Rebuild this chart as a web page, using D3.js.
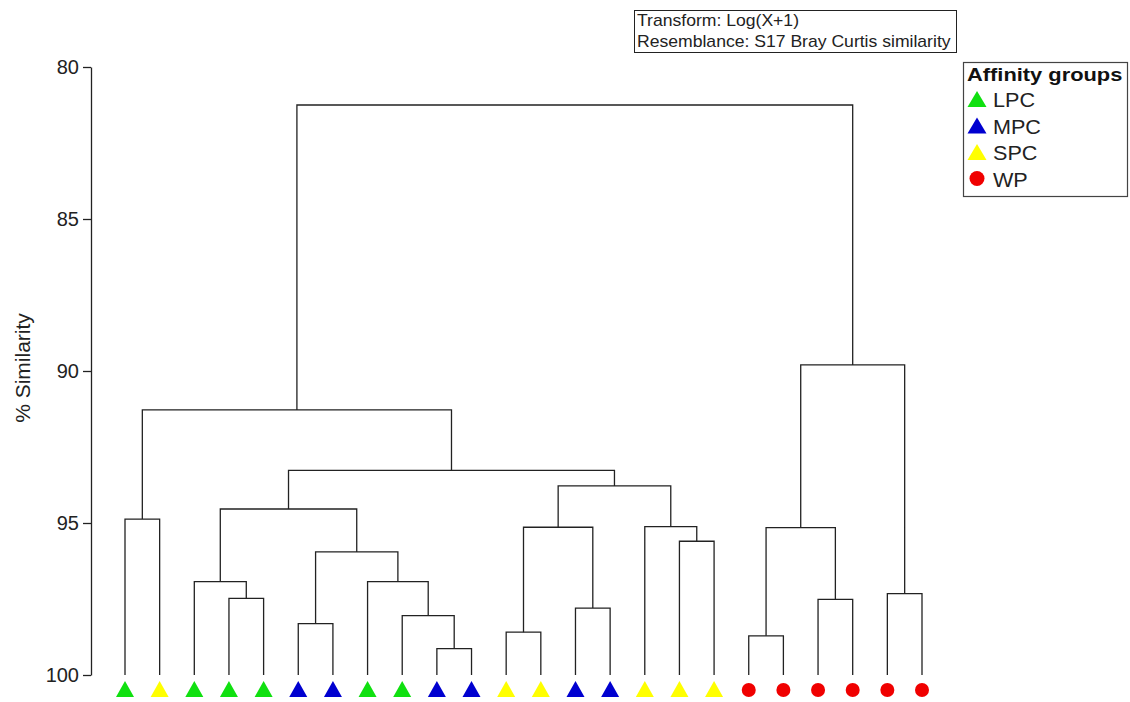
<!DOCTYPE html>
<html>
<head>
<meta charset="utf-8">
<script src="https://cdn.jsdelivr.net/npm/d3@7"></script>
<style>
  body { margin: 0; background: #fff; }
  svg { font-family: Arial, "Liberation Sans", sans-serif; }
</style>
</head>
<body>
<svg width="1130" height="702"></svg>
<script>
// leaf samples, left to right, with their affinity group
var leafGroups = ["LPC","SPC","LPC","LPC","LPC","MPC","MPC","LPC","LPC","MPC","MPC","SPC",
                  "SPC","MPC","MPC","SPC","SPC","SPC","WP","WP","WP","WP","WP","WP"];

// merges, hclust style: negative = leaf number, positive = earlier merge row; last = % similarity
var merges = [
  [-10, -11, 99.13],
  [-19, -20, 98.71],
  [-12, -13, 98.59],
  [-6, -7, 98.31],
  [-9, 1, 98.05],
  [-14, -15, 97.80],
  [-21, -22, 97.51],
  [-4, -5, 97.48],
  [-23, -24, 97.32],
  [-3, 8, 96.93],
  [-8, 5, 96.93],
  [4, 11, 95.95],
  [-17, -18, 95.60],
  [2, 7, 95.15],
  [3, 6, 95.14],
  [-16, 13, 95.12],
  [-1, -2, 94.87],
  [10, 12, 94.54],
  [15, 16, 93.78],
  [18, 19, 93.27],
  [17, 20, 91.28],
  [14, 9, 89.80],
  [21, 22, 81.25]
];

var yTicks = [80, 85, 90, 95, 100];
var groups = ["LPC", "MPC", "SPC", "WP"];
var groupColors = ["#10e010", "#0000d0", "#ffff00", "#f00000"];
var infoLines = ["Transform: Log(X+1)", "Resemblance: S17 Bray Curtis similarity"];

var svg = d3.select("svg");

var x = d3.scalePoint()
    .domain(d3.range(1, leafGroups.length + 1))
    .range([125, 922]);

var y = d3.scaleLinear()
    .domain([80, 100])
    .range([67, 675]);

var color = d3.scaleOrdinal().domain(groups).range(groupColors);

// y axis
var yAxis = svg.append("g")
    .attr("transform", "translate(91,0)")
    .call(d3.axisLeft(y).tickValues(yTicks).tickSize(8).tickSizeOuter(0).tickPadding(4));
yAxis.select(".domain").attr("stroke", "#222").attr("stroke-width", 1.3);
yAxis.selectAll(".tick line").attr("stroke", "#222").attr("stroke-width", 1.3);
yAxis.selectAll(".tick text")
    .attr("fill", "#222")
    .style("font-size", "20px")
    .attr("font-family", "Arial, 'Liberation Sans', sans-serif");

svg.append("text")
    .attr("transform", "translate(30,368) rotate(-90)")
    .attr("text-anchor", "middle")
    .attr("fill", "#222")
    .style("font-size", "21px")
    .text("% Similarity");

// positions of nodes
function pos(id) {
  if (id < 0) return { x: x(-id), h: 100 };
  var m = merges[id - 1];
  var a = pos(m[0]), b = pos(m[1]);
  return { x: (a.x + b.x) / 2, h: m[2] };
}

var links = svg.append("g")
    .attr("fill", "none")
    .attr("stroke", "#222")
    .attr("stroke-width", 1.3);

merges.forEach(function(m) {
  var a = pos(m[0]), b = pos(m[1]);
  links.append("path")
      .attr("d", "M" + a.x + "," + y(a.h) + "V" + y(m[2]) + "H" + b.x + "V" + y(b.h));
});

// leaf markers
var markers = svg.append("g");
leafGroups.forEach(function(g, i) {
  var cx = x(i + 1), cy = 690;
  if (g === "WP") {
    markers.append("circle").attr("cx", cx).attr("cy", cy).attr("r", 7).attr("fill", color(g));
  } else {
    markers.append("path")
        .attr("d", "M" + (cx - 9) + "," + (cy + 7) + "L" + cx + "," + (cy - 9) + "L" + (cx + 9) + "," + (cy + 7) + "Z")
        .attr("fill", color(g));
  }
});

// info box
var info = svg.append("g");
info.append("rect")
    .attr("x", 634.5).attr("y", 10.5).attr("width", 322).attr("height", 42)
    .attr("fill", "#fff").attr("stroke", "#222").attr("stroke-width", 1);
info.selectAll("text")
    .data(infoLines)
    .enter().append("text")
      .attr("transform", function(d, i) { return "translate(637," + (26 + i * 21) + ") scale(1.1,1)"; })
      .attr("fill", "#222")
      .style("font-size", "16px")
      .text(function(d) { return d; });

// legend
var legend = svg.append("g");
legend.append("rect")
    .attr("x", 963.5).attr("y", 62.5).attr("width", 164).attr("height", 134)
    .attr("fill", "#fff").attr("stroke", "#444").attr("stroke-width", 1.2);
legend.append("text")
    .attr("transform", "translate(967,81) scale(1.15,1)")
    .attr("fill", "#111")
    .style("font-size", "19px").style("font-weight", "bold")
    .text("Affinity groups");

var items = legend.selectAll("g.item")
    .data(groups)
    .enter().append("g")
      .attr("class", "item")
      .attr("transform", function(d, i) { return "translate(977," + (99 + i * 26.5) + ")"; });

items.each(function(d) {
  var g = d3.select(this);
  if (d === "WP") {
    g.append("circle").attr("r", 7.5).attr("fill", color(d));
  } else {
    g.append("path").attr("d", "M-9.5,8L0,-8L9.5,8Z").attr("fill", color(d));
  }
});

items.append("text")
    .attr("transform", "translate(16,8) scale(1.08,1)")
    .attr("fill", "#222")
    .style("font-size", "20px")
    .text(function(d) { return d; });
</script>
</body>
</html>
